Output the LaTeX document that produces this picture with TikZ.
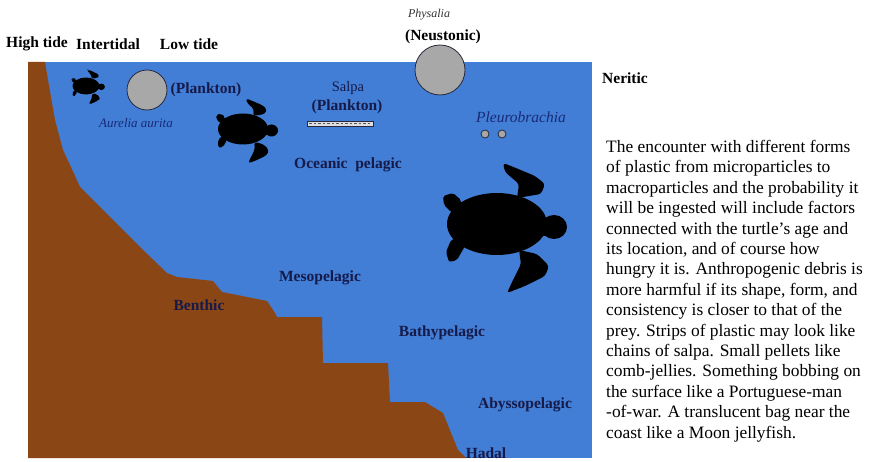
\documentclass[tikz,border=0pt]{standalone}
\usepackage{fontspec}
\setmainfont{Liberation Serif}[
  BoldFont={Liberation Serif Bold},
  ItalicFont={Liberation Serif Italic},
  BoldItalicFont={Liberation Serif Bold Italic}]
\definecolor{sea}{RGB}{66,126,214}
\definecolor{seabed}{RGB}{139,70,22}
\definecolor{navy}{RGB}{22,26,72}
\definecolor{bluetext}{RGB}{24,42,120}
\definecolor{jelly}{RGB}{168,168,168}
\definecolor{rim}{RGB}{40,40,60}
\tikzset{
  zone/.style={font=\fontsize{15.5}{18}\selectfont\bfseries, text=navy, inner sep=0},
  toplabel/.style={font=\fontsize{15.5}{18}\selectfont\bfseries, text=black, inner sep=0},
  species/.style={font=\fontsize{13}{15}\selectfont\itshape, text=bluetext, inner sep=0},
  jellyfish/.style={fill=jelly, draw=rim, line width=0.8pt},
  turtle/.pic={
    % shell
    \fill (0,0) ellipse [x radius=50, y radius=31];
    % head
    \fill (57,3) ellipse [x radius=13, y radius=12];
    \fill (44,-6) rectangle (52,12);
    % front flippers
    \fill[rounded corners=3] (20,-26) -- (44,-30) -- (48,-40) -- (38,-48)
      -- (14,-58) -- (6,-61) -- (8,-52) -- (22,-40) -- cycle;
    \fill[rounded corners=3] (22,26) -- (40,30) -- (52,42) -- (48,52)
      -- (28,62) -- (10,69) -- (16,56) -- (24,40) -- cycle;
    % hind flippers
    \fill[rounded corners=2] (-36,-24) -- (-44,-31) -- (-54,-28) -- (-53,-19)
      -- (-46,-12) -- (-36,-10) -- cycle;
    \fill[rounded corners=2] (-34,12) -- (-46,16) -- (-51,28) -- (-48,38)
      -- (-40,36) -- (-32,22) -- cycle;
  }
}
\begin{document}
\begin{tikzpicture}[x=1pt,y=-1pt]
  \useasboundingbox (0,0) rectangle (875,462);
  \fill[white] (0,0) rectangle (875,462);

  % water column
  \fill[sea] (28,62) rectangle (592,458);

  % continental shelf, slope and steps down to the hadal zone
  \fill[seabed] (28,62) -- (45,62) -- (48,80) -- (55,120) -- (63,150)
    -- (70,165) -- (80,187) -- (98,205) -- (110,217) -- (140,247)
    -- (167,273) -- (177,277) -- (213,281) -- (222,292) -- (267,301)
    -- (275,313) -- (277,317) -- (322,317) -- (323,363) -- (388,363)
    -- (390,402) -- (425,402) -- (443,413) -- (458,450) -- (466,458)
    -- (28,458) -- cycle;

  % zone labels above the water
  \node[toplabel] (high) at (37,44) {High tide};
  \node[toplabel] (inter) at (108,44) {Intertidal};
  \node[toplabel] (low) at (189,44) {Low tide};
  \node[toplabel] (neritic) at (625,78) {Neritic};

  % Physalia floating at the surface
  \node[font=\fontsize{12}{14}\selectfont\itshape, text=black!80, inner sep=0] (physalia) at (429,15) {Physalia};
  \node[toplabel] (neuston) at (443,37) {(Neustonic)};
  \draw[jellyfish] (440,70) circle [radius=25];

  % Aurelia aurita
  \draw[jellyfish] (147,90) circle [radius=20];
  \node[zone] (plank1) at (206,90) {(Plankton)};
  \node[species] (aurelia) at (136,123) {Aurelia aurita};

  % Salpa chain
  \node[font=\fontsize{14.5}{16}\selectfont, text=navy, inner sep=0] (salpa) at (348,88) {Salpa};
  \node[zone] (plank2) at (347,107) {(Plankton)};
  \draw[fill=gray!25, draw=rim, line width=0.6pt] (307,121) rectangle (373,126);
  \draw[rim!80, line width=1.2pt, dash pattern=on 2.5pt off 2pt] (309,123.5) -- (371,123.5);

  % Pleurobrachia
  \node[species, font=\fontsize{15.5}{17}\selectfont\itshape] (pleuro) at (521,117) {Pleurobrachia};
  \draw[jellyfish] (485,134) circle [radius=4];
  \draw[jellyfish] (502,134) circle [radius=4];

  % turtles of three ages
  \pic[scale=0.27] (tsmall) at (86,86) {turtle};
  \pic[scale=0.5] (tmid) at (243,129) {turtle};
  \pic (tbig) at (497,224) {turtle};

  % depth zones
  \node[zone] (oceanic) at (348,165) {Oceanic\ \ pelagic};
  \node[zone] (meso) at (320,278) {Mesopelagic};
  \node[zone] (benthic) at (199,305) {Benthic};
  \node[zone] (bathy) at (442,333) {Bathypelagic};
  \node[zone] (abyss) at (525,405) {Abyssopelagic};
  \node[zone] (hadal) at (486,453) {Hadal};

  % explanatory paragraph
  \node[anchor=north west, inner sep=0, align=left,
        font=\fontsize{17.4}{20.4}\selectfont] (para) at (606,140) {%
    The encounter with different forms\\
    of plastic from microparticles to\\
    macroparticles and the probability it\\
    will be ingested will include factors\\
    connected with the turtle's age and\\
    its location, and of course how\\
    hungry it is. Anthropogenic debris is\\
    more harmful if its shape, form, and\\
    consistency is closer to that of the\\
    prey. Strips of plastic may look like\\
    chains of salpa. Small pellets like\\
    comb-jellies. Something bobbing on\\
    the surface like a Portuguese-man\\
    -of-war. A translucent bag near the\\
    coast like a Moon jellyfish.};
\end{tikzpicture}
\end{document}
